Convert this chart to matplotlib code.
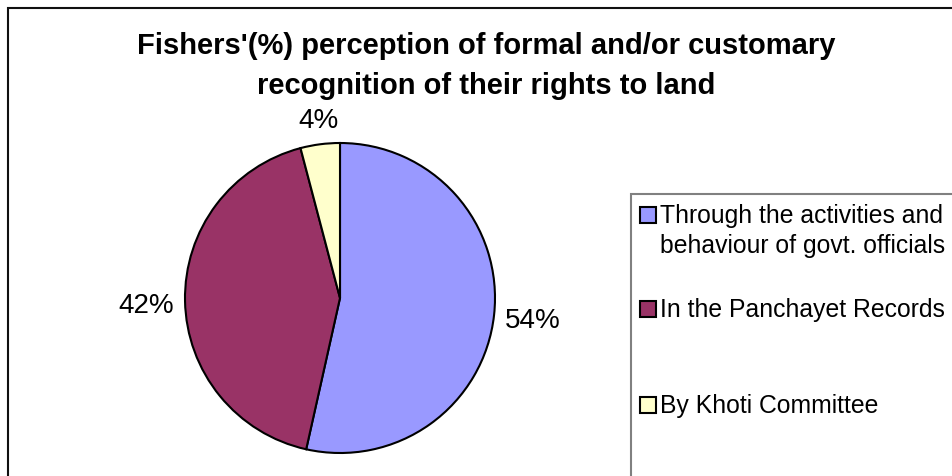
import numpy as np
import matplotlib.pyplot as plt
import matplotlib.patches as patches

# Chart data (slice sizes read from the wedge boundaries, labels as printed)
categories = ["Through the activities and\nbehaviour of govt. officials",
              "In the Panchayet Records",
              "By Khoti Committee"]
shares = [53.5, 42.4, 4.1]
pct_labels = ["54%", "42%", "4%"]
colors = ["#9999FF", "#993366", "#FFFFCC"]
title = "Fishers'(%) perception of formal and/or customary\nrecognition of their rights to land"

plt.rcParams['font.family'] = ['Liberation Sans', 'DejaVu Sans']

W, H = 952, 476
fig = plt.figure(figsize=(W / 100, H / 100), dpi=100)

# Outer chart frame (cut off at right and bottom like the reference)
fig.patches.append(patches.Rectangle((8 / W, -0.1), 1.2, 1 - 8 / H + 0.1,
                                     transform=fig.transFigure, fill=False,
                                     edgecolor="#101010", linewidth=1.5))

# Pie axes: centre (340, 298) px, radius 155 px
cx, cy, r = 340, 298, 155
ax = fig.add_axes([(cx - r) / W, (H - cy - r) / H, 2 * r / W, 2 * r / H])
wedges, _ = ax.pie(shares, colors=colors, startangle=90, counterclock=False,
                   wedgeprops=dict(edgecolor="black", linewidth=1.5))
ax.set_xlim(-1, 1)
ax.set_ylim(-1, 1)
ax.axis('off')

# percentage labels just outside the wedges, anchored by their inner edge
for w, lab in zip(wedges, pct_labels):
    mid = np.deg2rad((w.theta1 + w.theta2) / 2)
    x, y = 1.07 * np.cos(mid), 1.07 * np.sin(mid)
    ha = 'left' if np.cos(mid) > 0.3 else ('right' if np.cos(mid) < -0.3 else 'center')
    va = 'bottom' if np.sin(mid) > 0.7 else ('top' if np.sin(mid) < -0.7 else 'center')
    ax.text(x, y - (0.03 if va == 'center' else 0), lab, ha=ha, va=va,
            fontsize=20, clip_on=False)

fig.text(486 / W, 1 - 32 / H, title, ha='center', va='top',
         fontsize=21, fontweight='bold', linespacing=1.55)

# Legend box
fig.patches.append(patches.Rectangle((631 / W, -0.1), 1.0, 1 - 194 / H + 0.1,
                                     transform=fig.transFigure, fill=False,
                                     edgecolor="#808080", linewidth=1.5))
rows_y = [215, 309, 405]
for label, col, y in zip(categories, colors, rows_y):
    fig.patches.append(patches.Rectangle((640 / W, 1 - (y + 8) / H), 16 / W, 16 / H,
                                         transform=fig.transFigure,
                                         facecolor=col, edgecolor="black",
                                         linewidth=1.5))
    fig.text(660 / W, 1 - (y - 11) / H, label, ha='left', va='top',
             fontsize=17.8, linespacing=1.3)

fig.savefig("out.png", dpi=100)
